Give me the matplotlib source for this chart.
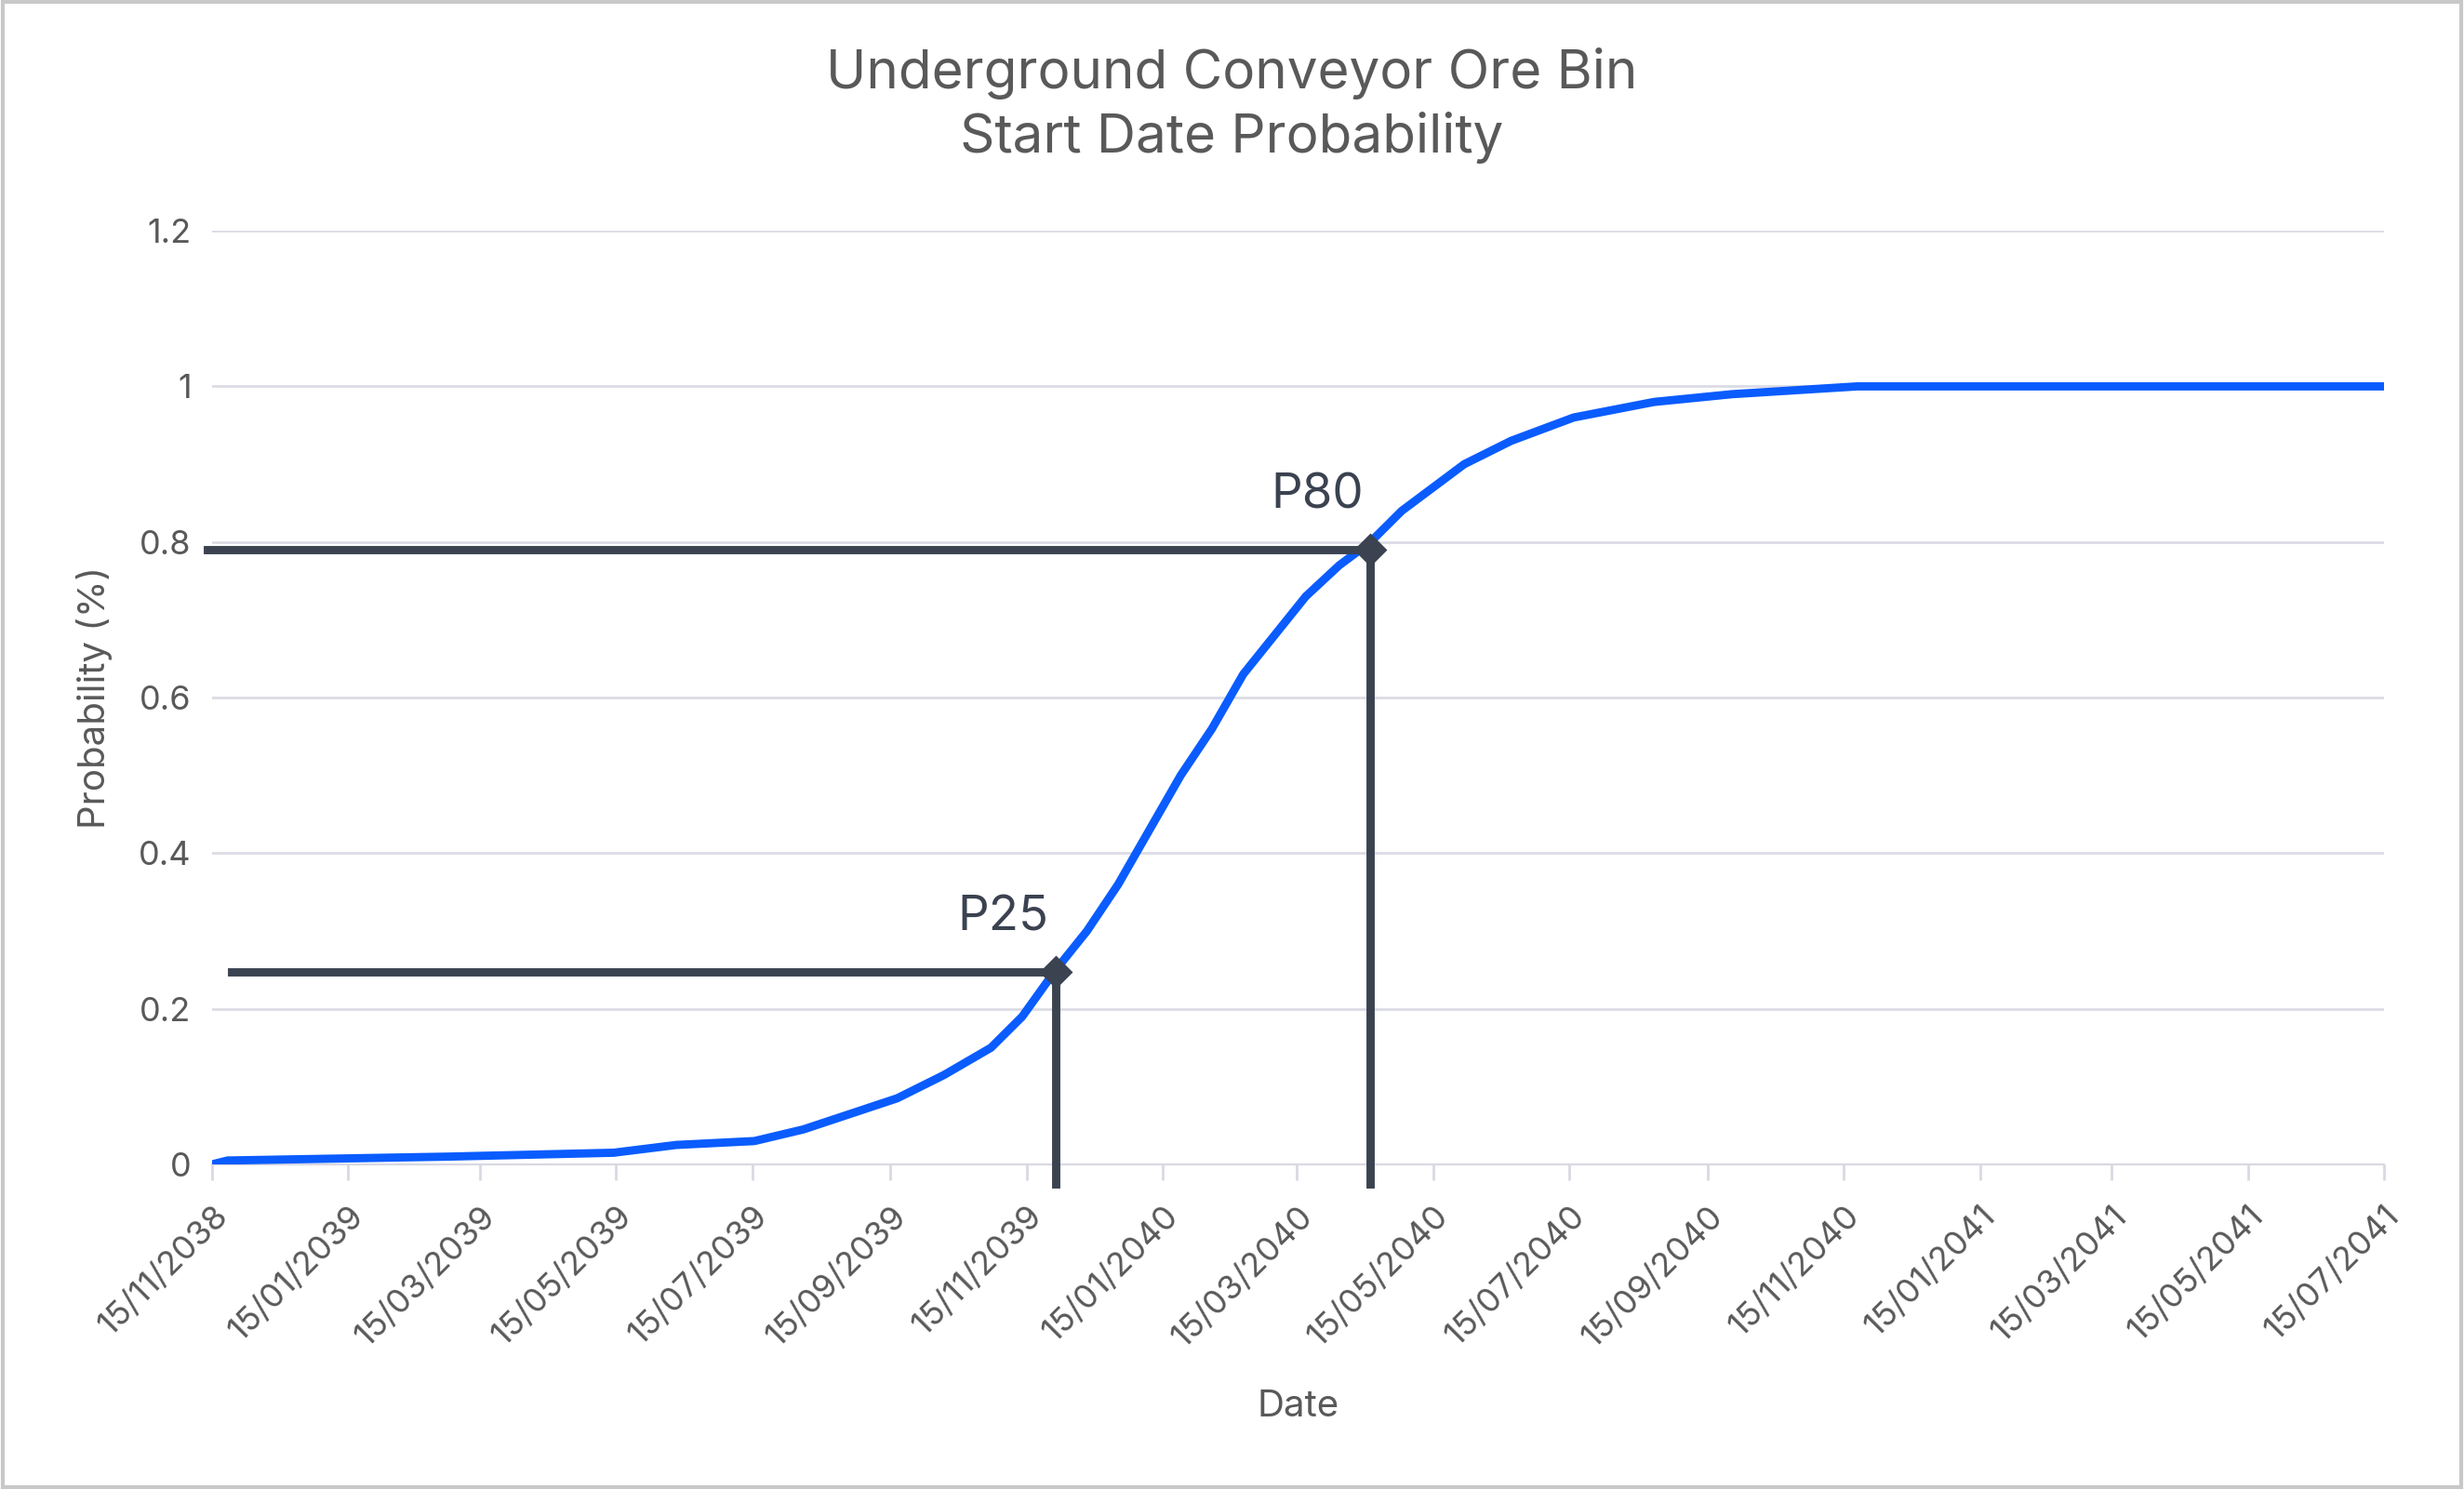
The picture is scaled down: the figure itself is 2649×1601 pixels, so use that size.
import matplotlib
matplotlib.use("Agg")
import matplotlib.pyplot as plt
import matplotlib.dates as mdates
import numpy as np
from datetime import date, timedelta

plt.rcParams["font.family"] = ["Inter", "DejaVu Sans"]

START = date(2038, 11, 15)
# days after 15/11/2038 and cumulative probability
day_offsets = [0, 7, 106, 180, 208, 243, 265, 286, 307, 328, 349, 363, 378, 392,
               406, 420, 434, 448, 462, 476, 490, 505, 519, 533, 547, 561, 582,
               610, 646, 681, 737, 975]
probs = [0.0, 0.005, 0.01, 0.015, 0.025, 0.03, 0.045, 0.065, 0.085, 0.115, 0.15,
         0.19, 0.25, 0.30, 0.36, 0.43, 0.50, 0.56, 0.63, 0.68, 0.73, 0.77, 0.80,
         0.84, 0.87, 0.90, 0.93, 0.96, 0.98, 0.99, 1.0, 1.0]
dates = [START + timedelta(days=d) for d in day_offsets]

markers = {"P25": (date(2039, 11, 28), 0.247), "P80": (date(2040, 4, 17), 0.79)}
line_start = {"P25": date(2038, 11, 24), "P80": date(2038, 11, 13)}

tick_dates = []
y, m = 2038, 11
while (y, m) <= (2041, 7):
    tick_dates.append(date(y, m, 15))
    m += 2
    if m > 12:
        m -= 12
        y += 1

fig = plt.figure(figsize=(13.245, 8.005), dpi=200)
ax = fig.add_axes([0.086, 0.218, 0.8815, 0.627])
fig.patches.append(plt.Rectangle((0.001, 0.001), 0.998, 0.998, transform=fig.transFigure,
                                 fill=False, edgecolor="#c8c8c8", linewidth=1.5))

ax.plot(dates, probs, color="#0a5cff", linewidth=3.2, zorder=3)

dark = "#3b4250"
for name, (d, p) in markers.items():
    ax.plot([line_start[name], d], [p, p], color=dark, linewidth=3.2, zorder=4, clip_on=False)
    ax.plot([d, d], [p, -0.025], color=dark, linewidth=3.2, zorder=4, clip_on=False)
    ax.plot([d], [p], marker="D", color=dark, markersize=8, zorder=5, clip_on=False)
    ax.text(d - timedelta(days=3), p + 0.04, name, ha="right", va="bottom",
            fontsize=19, color=dark)

ax.set_xlim(tick_dates[0], tick_dates[-1])
ax.set_ylim(0, 1.2)
ax.set_yticks([0, 0.2, 0.4, 0.6, 0.8, 1.0, 1.2])
ax.set_yticklabels(["0", "0.2", "0.4", "0.6", "0.8", "1", "1.2"])
ax.set_xticks(tick_dates)
ax.xaxis.set_major_formatter(mdates.DateFormatter("%d/%m/%Y"))
plt.setp(ax.get_xticklabels(), rotation=45, ha="right", rotation_mode="anchor")
ax.tick_params(axis="both", labelsize=13, colors="#595959", length=0, pad=8)
ax.tick_params(axis="x", length=6, color="#d9d9e3", width=1)
ax.grid(axis="y", color="#dcdce6", linewidth=1)
ax.set_axisbelow(True)
for s in ["top", "right", "left"]:
    ax.spines[s].set_visible(False)
ax.spines["bottom"].set_color("#d9d9e3")

ax.set_xlabel("Date", fontsize=14.5, color="#595959", labelpad=14)
ax.set_ylabel("Probability (%)", fontsize=14.5, color="#595959", labelpad=10)
fig.suptitle("Underground Conveyor Ore Bin\nStart Date Probability", y=0.968,
             fontsize=21, color="#595959", linespacing=1.3)

fig.savefig("out.png", dpi=200)
